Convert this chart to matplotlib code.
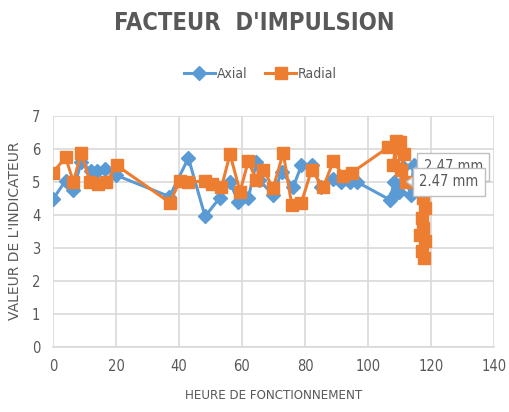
import matplotlib.pyplot as plt
from matplotlib import font_manager

# heures de fonctionnement et valeurs de l'indicateur
t_axial = [0, 4, 6.5, 9, 12, 14, 16.6, 20, 37, 43, 48.3, 53, 56.2, 58.8, 62, 64.6,
           65.5, 69.9, 72.6, 76.3, 78.9, 82.1, 85, 89, 91.5, 94.3, 96.4,
           107, 108.3, 108.8, 109.8, 111, 113.6, 114.5]
v_axial = [4.47, 5.03, 4.75, 5.6, 5.34, 5.34, 5.38, 5.2, 4.55, 5.72, 3.95, 4.52, 4.98, 4.4, 4.5, 5.6,
           5.05, 4.6, 5.3, 4.85, 5.5, 5.5, 4.85, 5.08, 5.0, 5.0, 5.0,
           4.45, 5.0, 4.65, 4.7, 5.45, 4.6, 5.5]

t_radial = [0, 4, 6.5, 9, 11.8, 14.4, 17, 20.2, 37.1, 40.3, 42.9, 48.3, 50.4, 53.5, 56.2, 59.4,
            62, 64.6, 66.8, 69.9, 73.1, 75.8, 78.9, 82.1, 85.8, 89, 92.2, 94.8,
            106.5, 109, 108, 110.2, 111.3, 110.6, 112.2, 116.5, 117.5, 118, 117,
            116.5, 117.5, 118, 117.3, 117.8]
v_radial = [5.28, 5.74, 5.0, 5.88, 4.98, 4.93, 4.98, 5.5, 4.37, 5.03, 4.98, 5.03, 4.93, 4.83, 5.84, 4.7,
            5.62, 5.05, 5.37, 4.8, 5.88, 4.3, 4.37, 5.37, 4.83, 5.62, 5.18, 5.27,
            6.05, 6.25, 5.5, 6.2, 5.85, 5.35, 5.0, 4.95, 4.5, 4.2, 3.9,
            3.4, 3.6, 3.2, 2.9, 2.7]

# étiquettes de données (épaisseur)
label_text = ['2.47 mm', '2.47 mm']
label_t = [114.5, 112.2]
label_v = [5.3, 5.0]

# police étroite si dispo
fonts = font_manager.fontManager.ttflist
names = {f.name for f in fonts}
stretch = 'normal'
if 'Liberation Sans Narrow' in names:
    fam = ['Liberation Sans Narrow', 'DejaVu Sans']
elif any(f.name == 'DejaVu Sans' and f.stretch == 'condensed' for f in fonts):
    fam = ['DejaVu Sans']
    stretch = 'condensed'
elif 'Roboto Condensed' in names:
    fam = ['Roboto Condensed', 'DejaVu Sans']
else:
    fam = ['Roboto', 'DejaVu Sans']

plt.rcParams['font.family'] = fam
plt.rcParams['font.stretch'] = stretch
gray = '#595959'
blue = '#5B9BD5'
orange = '#ED7D31'

fig = plt.figure(figsize=(5.09, 4.12), dpi=100)
ax = fig.add_axes([0.104, 0.1585, 0.8665, 0.5605])

ax.plot(t_axial, v_axial, color=blue, lw=2.2, marker='D', ms=7, label='Axial', zorder=3)
ax.plot(t_radial, v_radial, color=orange, lw=2.2, marker='s', ms=9, label='Radial', zorder=4)

offsets = [(10, 5), (13, 0)]
for txt, x, y, off in zip(label_text, label_t, label_v, offsets):
    ax.annotate(txt, (x, y), xytext=off, textcoords='offset pixels',
                fontsize=10.5, color=gray, va='center', ha='left', zorder=6,
                bbox=dict(boxstyle='square,pad=0.45', fc='white', ec='#bfbfbf', lw=1),
                arrowprops=dict(arrowstyle='wedge,tail_width=0.6', fc='white', ec='#bfbfbf',
                                lw=1, shrinkA=0, shrinkB=0))

ax.set_xlim(0, 140)
ax.set_ylim(0, 7)
ax.set_xticks(range(0, 141, 20))
ax.set_yticks(range(0, 8))
ax.grid(True, color='#d9d9d9', lw=1.2)
ax.set_axisbelow(True)
for s in ['top', 'right', 'left']:
    ax.spines[s].set_visible(False)
ax.spines['bottom'].set_color('#d9d9d9')
ax.spines['bottom'].set_linewidth(1.2)
ax.tick_params(length=0, labelsize=10.5, labelcolor=gray, pad=9)

ax.set_xlabel('HEURE DE FONCTIONNEMENT', fontsize=9.5, color=gray, labelpad=11)
ax.set_ylabel("VALEUR DE L'INDICATEUR", fontsize=10, color=gray, labelpad=7,
              family='DejaVu Sans', stretch='normal')

fig.text(0.5, 0.945, "FACTEUR  D'IMPULSION", ha='center', va='center',
         fontsize=17, fontweight='bold', color=gray)

fig.legend(loc='center', bbox_to_anchor=(0.512, 0.82), ncol=2, frameon=False,
           fontsize=10, labelcolor=gray, handlelength=2.2, handletextpad=0.15,
           columnspacing=1.3)

fig.savefig('out.png', dpi=100)
